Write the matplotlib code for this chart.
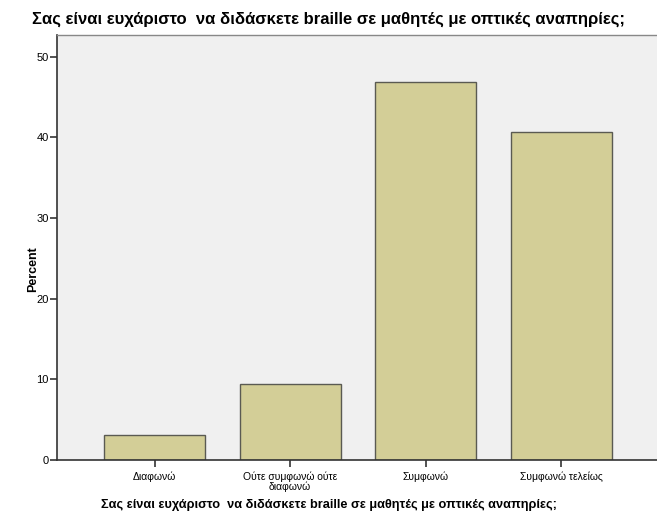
import numpy as np
import matplotlib.pyplot as plt

plt.rcParams['font.family'] = ['Liberation Sans', 'DejaVu Sans']

categories = ['Διαφωνώ', 'Ούτε συμφωνώ ούτε\nδιαφωνώ', 'Συμφωνώ', 'Συμφωνώ τελείως']
percent = [3.125, 9.375, 46.875, 40.625]
yticks = [0, 10, 20, 30, 40, 50]
title = 'Σας είναι ευχάριστο  να διδάσκετε braille σε μαθητές με οπτικές αναπηρίες;'

fig = plt.figure(figsize=(6.57, 5.18), dpi=100)
ax = fig.add_axes([0.0868, 0.112, 0.9157, 0.8205])
ax.set_facecolor('#f0f0f0')

x = np.arange(len(categories))
ax.bar(x, percent, width=0.745, color='#d3ce97', edgecolor='#5a5a52', linewidth=1.0, zorder=2)

ax.set_xlim(-0.72, 3.72)
ax.set_ylim(0, 52.7)
ax.set_yticks(yticks)
ax.set_xticks(x)
ax.set_xticklabels(categories, fontsize=7.5, linespacing=0.95)
ax.tick_params(axis='y', labelsize=8, length=5, width=1.2, color='#333333', pad=1)
ax.tick_params(axis='x', length=5, width=1.2, color='#333333', pad=3)

for s in ['left', 'bottom']:
    ax.spines[s].set_color('#333333')
    ax.spines[s].set_linewidth(1.2)
ax.spines['top'].set_color('#888888')
ax.spines['top'].set_linewidth(1.0)
ax.spines['right'].set_visible(False)

ax.set_ylabel('Percent', fontsize=9, fontweight='bold')
ax.yaxis.set_label_coords(-0.03, 0.45)
fig.text(0.5, 0.963, title, ha='center', va='center', fontsize=12, fontweight='bold')
fig.text(0.5, 0.025, title, ha='center', va='center', fontsize=9.2, fontweight='bold')

fig.savefig('out.png', dpi=100)
